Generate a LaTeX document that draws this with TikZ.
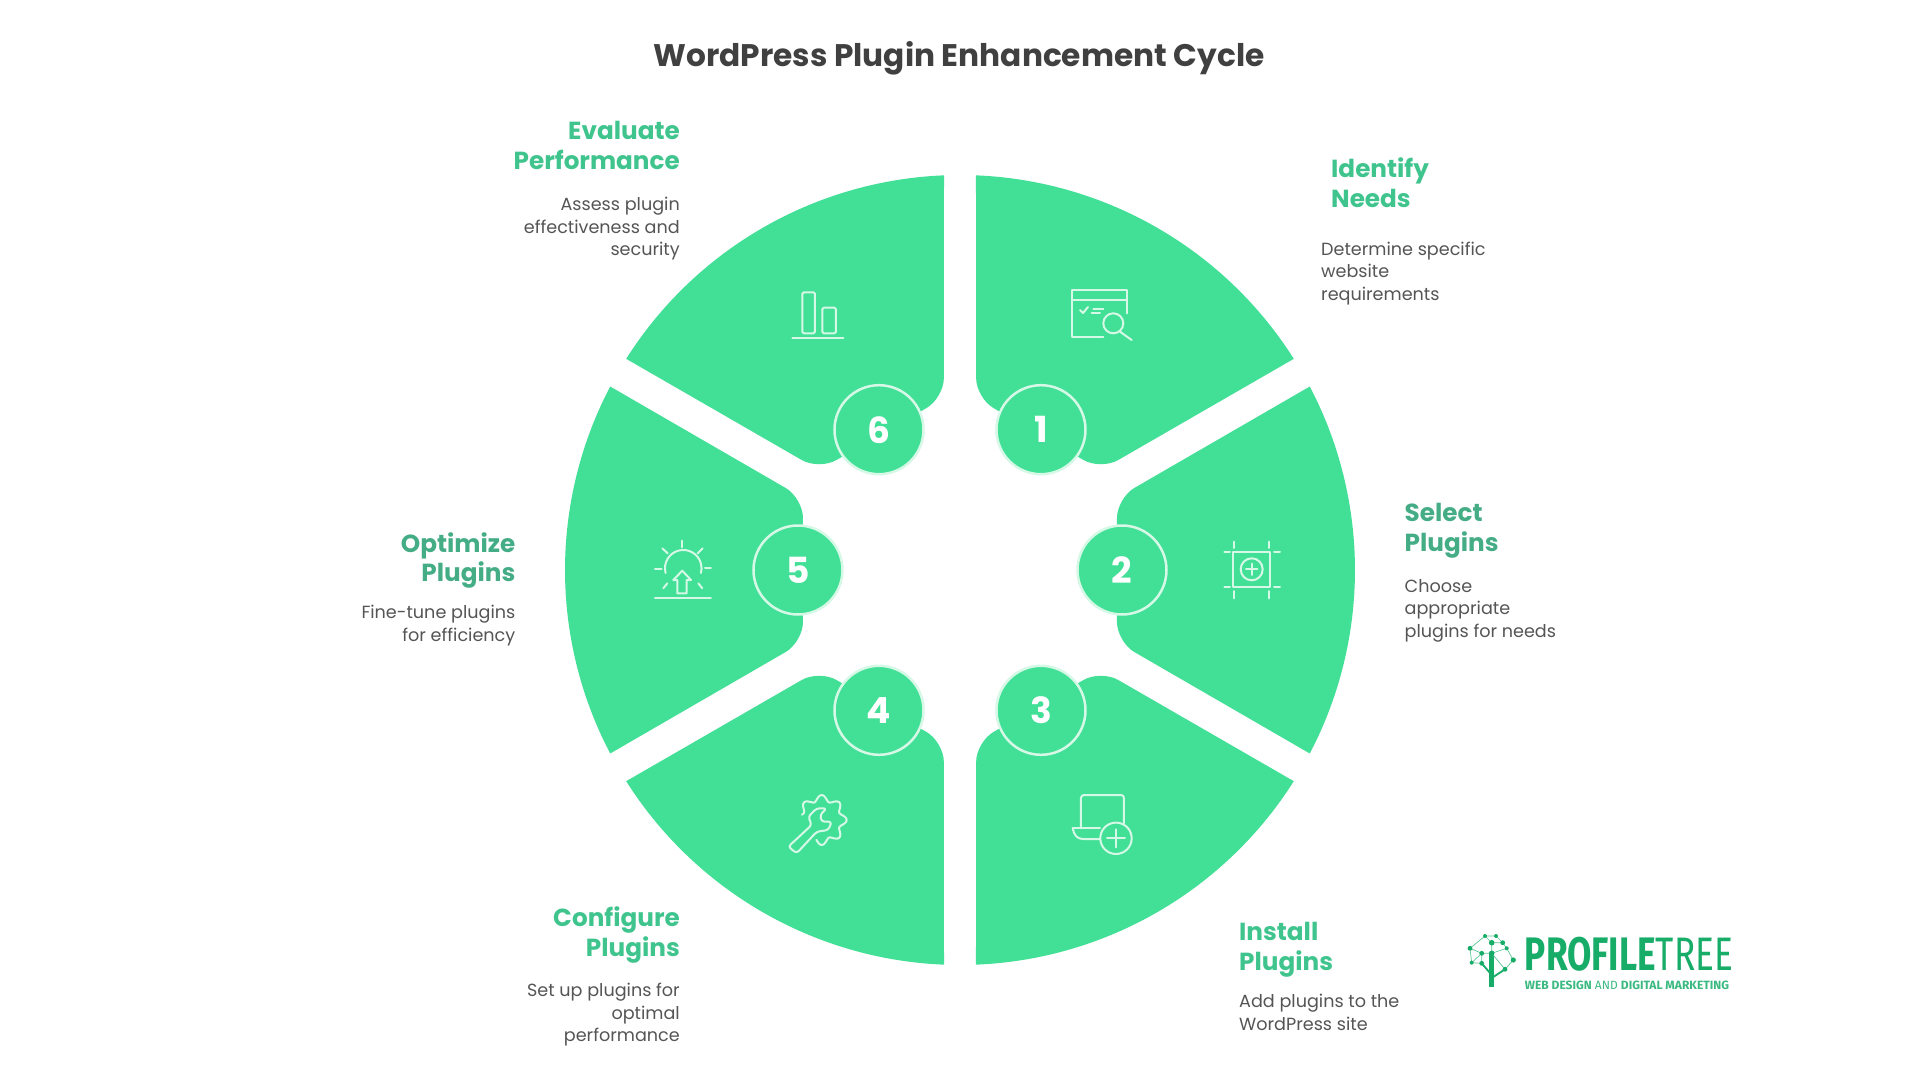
\documentclass[tikz,border=0pt]{standalone}
\usepackage{fontspec}
\setmainfont{Poppins}
\newfontfamily\logofont{Fira Sans}
\definecolor{wheelgreen}{HTML}{42DF97}
\definecolor{palemint}{HTML}{D6F8E6}
\definecolor{headgreen}{HTML}{3FC48E}
\definecolor{headdark}{HTML}{45AD86}
\definecolor{bodygrey}{HTML}{555555}
\definecolor{titlegrey}{HTML}{404040}
\definecolor{logogreen}{HTML}{17AD69}
\tikzset{
	wedge/.style={fill=wheelgreen},
	numdisc/.style={circle, draw=palemint, fill=wheelgreen, line width=2.5pt, minimum size=89pt, inner sep=0pt, text=white, font=\fontsize{36}{36}\selectfont\bfseries},
	icon/.style={draw=palemint, line width=2pt, line cap=round, line join=round},
	stephead/.style={font=\fontsize{24.7}{30}\selectfont\bfseries, inner sep=0pt},
	stepbody/.style={font=\fontsize{17.6}{22.5}\selectfont, text=bodygrey, inner sep=0pt},
	twig/.style={draw=logogreen!70, line width=0.7pt},
	bud/.style={fill=logogreen}
}
\newcommand{\wedgeoutline}{(27.68:395) [rounded corners=20pt] -- (157,72) -- (157,-72) [sharp corners] -- (-27.68:395) arc[start angle=-27.68, end angle=27.68, radius=395] -- cycle}
\begin{document}
\begin{tikzpicture}[x=1pt,y=1pt]
	\useasboundingbox[fill=white] (-960,-510) rectangle (960,570);
	% title
	\node[font=\fontsize{31.2}{36}\selectfont\bfseries, text=titlegrey] (title) at (-1,511.5) {WordPress Plugin Enhancement Cycle};
	% wheel
	\fill[wedge, rotate=0] \wedgeoutline;
	\fill[wedge, rotate=60] \wedgeoutline;
	\fill[wedge, rotate=120] \wedgeoutline;
	\fill[wedge, rotate=180] \wedgeoutline;
	\fill[wedge, rotate=240] \wedgeoutline;
	\fill[wedge, rotate=300] \wedgeoutline;
	% numbers
	\node[numdisc] (num1) at (60:162) {1};
	\node[numdisc] (num2) at (0:162) {2};
	\node[numdisc] (num3) at (-60:162) {3};
	\node[numdisc] (num4) at (-120:162) {4};
	\node[numdisc] (num5) at (180:162) {5};
	\node[numdisc] (num6) at (120:162) {6};
	% icon 1
	\draw[icon] (166.7,256.7)--(166.7,280)--(112.3,280)--(112.3,233.3)--(143.3,233.3);
	\draw[icon] (112.3,270)--(166.7,270);
	\draw[icon] (120,260)--(123,257)--(128,263);
	\draw[icon] (133.3,260.7)--(143.3,260.7);
	\draw[icon] (131.7,256.7)--(140,256.7);
	\draw[icon] (153.3,246.7) circle(10);
	\draw[icon] (160,238.3)--(171.7,230);
	% icon 2
	\draw[icon] (273.3,-17.3) rectangle (310,18.3);
	\draw[icon] (291.7,0.7) circle(11);
	\draw[icon] (286,0.7)--(297.4,0.7);
	\draw[icon] (291.7,-5)--(291.7,6.4);
	\draw[icon] (274.3,28.3)--(274.3,22);
	\draw[icon] (309,28.3)--(309,22);
	\draw[icon] (274.3,-21)--(274.3,-28.3);
	\draw[icon] (309,-21)--(309,-28.3);
	\draw[icon] (264.3,18.3)--(270,18.3);
	\draw[icon] (314,18.3)--(320,18.3);
	\draw[icon] (264.3,-17.3)--(270,-17.3);
	\draw[icon] (314,-17.3)--(320,-17.3);
	% icon 3
	\draw[icon, rounded corners=3pt] (121,-258.3)--(121,-225)--(164,-225)--(164,-253.3);
	\draw[icon] (112.7,-258.3)--(140,-258.3);
	\draw[icon] (112.7,-258.3) .. controls (114,-265) and (117,-269) .. (123,-269)--(140,-269);
	\draw[icon] (156,-268.3) circle(15.7);
	\draw[icon] (147,-268.3)--(165,-268.3);
	\draw[icon] (156,-259.3)--(156,-277.3);
	% icon 4
	\draw[icon, rounded corners=3pt] (-171.7,-276.7)--(-148.3,-255)--(-151.7,-246.7)--(-143.3,-238.3)--(-133.3,-238.3)--(-140,-245)--(-138.3,-251.7)--(-128.3,-251.7)--(-131.7,-260)--(-143.3,-261.7)--(-163.3,-283.3)--cycle;
	\draw[icon, shift={(-138.3,-250)}] plot[smooth, samples=65, domain=-105:165] (\x:{22+3*cos(8*\x)});
	% icon 5
	\draw[icon] (-294.4,-3) arc[start angle=195, end angle=-15, radius=18.3];
	\draw[icon] (-277.7,29.3)--(-277.7,22.7);
	\draw[icon] (-297.7,21.7)--(-292.3,16.7);
	\draw[icon] (-257.3,21.7)--(-262.3,16.7);
	\draw[icon] (-305,1)--(-298.3,1);
	\draw[icon] (-255,1.7)--(-249,1.7);
	\draw[icon] (-296.7,-18.3)--(-292.7,-13.3);
	\draw[icon] (-257.7,-18.3)--(-261.7,-13.3);
	\draw[icon] (-282.7,-23.3)--(-282.7,-10)--(-286.7,-10)--(-277.7,-0.7)--(-269,-10)--(-273.3,-10)--(-273.3,-23.3)--cycle;
	\draw[icon] (-305,-28.3)--(-249,-28.3);
	% icon 6
	\draw[icon, rounded corners=1.5pt] (-157.7,236.7) rectangle (-145,277.7);
	\draw[icon, rounded corners=1.5pt] (-137.7,236.7) rectangle (-124,262.3);
	\draw[icon] (-167.7,231.7)--(-116.7,231.7);
	% labels
	\node[stephead, text=headgreen, anchor=west, align=left] (head1) at (371,387.5) {Identify\\Needs};
	\node[stepbody, anchor=west, align=left] (body1) at (361,296.5) {Determine specific\\website\\requirements};
	\node[stephead, text=headdark, anchor=west, align=left] (head2) at (444.5,39.5) {Select\\Plugins};
	\node[stepbody, anchor=west, align=left] (body2) at (444.5,-40.5) {Choose\\appropriate\\plugins for needs};
	\node[stephead, text=headgreen, anchor=west, align=left] (head3) at (279,-380) {Install\\Plugins};
	\node[stepbody, anchor=west, align=left] (body3) at (279,-442.6) {Add plugins to the\\WordPress site};
	\node[stephead, text=headgreen, anchor=east, align=right] (head4) at (-280,-364.5) {Configure\\Plugins};
	\node[stepbody, anchor=east, align=right] (body4) at (-280,-445) {Set up plugins for\\optimal\\performance};
	\node[stephead, text=headdark, anchor=east, align=right] (head5) at (-444.5,9.5) {Optimize\\Plugins};
	\node[stepbody, anchor=east, align=right] (body5) at (-444.5,-55.5) {Fine-tune plugins\\for efficiency};
	\node[stephead, text=headgreen, anchor=east, align=right] (head6) at (-280,425) {Evaluate\\Performance};
	\node[stepbody, anchor=east, align=right] (body6) at (-280,341) {Assess plugin\\effectiveness and\\security};
	% logo
	\draw[line width=4.5pt, logogreen] (531.7,-384)--(531.7,-417);
	\draw[twig] (510,-378.3)--(525,-366)--(536,-366)--(542.7,-372.7)--(546.7,-378.3)--(553.3,-390)--(545,-399.3)--(531.7,-383.3)--(521.7,-383.3)--(510,-378.3);
	\draw[twig] (525,-366)--(531.7,-372.7)--(542.7,-372.7);
	\draw[twig] (531.7,-372.7)--(531.7,-383.3)--(546.7,-378.3);
	\draw[twig] (511.7,-392.7)--(521.7,-383.3)--(521.7,-393.3)--(511.7,-392.7);
	\draw[twig] (510,-378.3)--(511.7,-392.7);
	\draw[line width=1.8pt, logogreen] (531.7,-405)--(521.7,-393.3);
	\draw[line width=1.8pt, logogreen] (531.7,-408)--(545,-399.3);
	\fill[bud] (510,-378.3) circle(2.4);
	\fill[bud] (525,-366) circle(2);
	\fill[bud] (536,-366) circle(2);
	\fill[bud] (531.7,-372.7) circle(2.8);
	\fill[bud] (542.7,-372.7) circle(2.4);
	\fill[bud] (511.7,-392.7) circle(2);
	\fill[bud] (521.7,-383.3) circle(2.4);
	\fill[bud] (531.7,-383.3) circle(2.8);
	\fill[bud] (546.7,-378.3) circle(2);
	\fill[bud] (553.3,-390) circle(2.6);
	\fill[bud] (545,-399.3) circle(2.4);
	\fill[bud] (521.7,-393.3) circle(2.4);
	\node[xscale=0.75, inner sep=0pt, text=logogreen, font=\fontsize{47}{47}\selectfont\logofont] (logoname) at (669,-384.5) {\textbf{PROFILE}TREE};
	\node[inner sep=0pt, text=logogreen!85, font=\fontsize{12}{12}\selectfont\logofont] (logotag) at (667,-415) {\textbf{WEB DESIGN} AND \textbf{DIGITAL MARKETING}};
\end{tikzpicture}
\end{document}
